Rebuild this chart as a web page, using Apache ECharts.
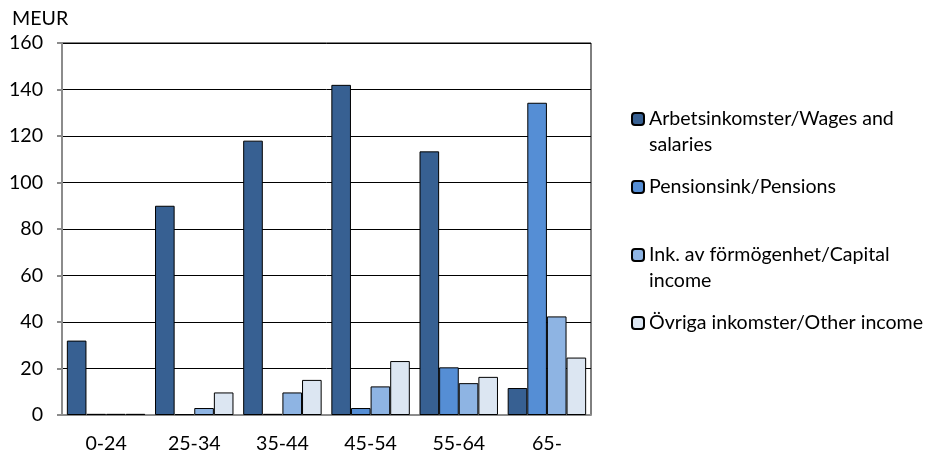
<!DOCTYPE html>
<html>
<head>
<meta charset="utf-8">
<script src="https://cdn.jsdelivr.net/npm/echarts@6/dist/echarts.min.js"></script>
<style>
html,body{margin:0;padding:0;background:#fff;}
#c{width:927px;height:454px;}
</style>
</head>
<body>
<div id="c"></div>
<script>
var categories = ['0-24', '25-34', '35-44', '45-54', '55-64', '65-'];
var seriesNames = ['Arbetsinkomster/Wages and salaries', 'Pensionsink/Pensions', 'Ink. av förmögenhet/Capital income', 'Övriga inkomster/Other income'];
var legendLabels = ['\nArbetsinkomster/Wages and\nsalaries', '\nPensionsink/Pensions\n', '\nInk. av förmögenhet/Capital\nincome', '\nÖvriga inkomster/Other income\n'];
var wages = [32, 90, 118, 142, 113.4, 11.6];
var pensions = [0.5, 0.4, 0.5, 3, 20.5, 134.3];
var capital = [0.5, 3, 9.7, 12.3, 13.7, 42.4];
var other = [0.5, 9.7, 15.1, 23.2, 16.4, 24.7];
var yTicks = [0, 20, 40, 60, 80, 100, 120, 140, 160];
var colors = ['#376092', '#558ED5', '#8EB4E3', '#DCE6F2'];

var FONT = 'Lato';
var FS = 19.6;
var values = [wages, pensions, capital, other];
var chart = echarts.init(document.getElementById('c'));
chart.setOption({
  animation: false,
  textStyle: {fontFamily: FONT},
  grid: {left: 62, right: 336, top: 43, bottom: 37, show: true, borderColor: '#000', borderWidth: 1},
  legend: {
    orient: 'vertical', left: 631, top: 80, padding: 0,
    itemWidth: 12, itemHeight: 12, itemGap: -10,
    data: seriesNames,
    formatter: function (name) { return legendLabels[seriesNames.indexOf(name)]; },
    textStyle: {fontFamily: FONT, fontSize: FS, color: '#000', lineHeight: 26}
  },
  xAxis: {
    type: 'category', data: categories,
    axisLine: {lineStyle: {color: '#8c8c8c', width: 2}},
    axisTick: {show: false},
    axisLabel: {fontFamily: FONT, fontSize: FS, color: '#000', margin: 19}
  },
  yAxis: {
    type: 'value', min: yTicks[0], max: yTicks[yTicks.length - 1], interval: 20,
    name: 'MEUR', nameLocation: 'end', nameGap: 14,
    nameTextStyle: {fontFamily: FONT, fontSize: FS, color: '#000', align: 'left', padding: [0, 0, 0, -50]},
    axisLine: {show: true, lineStyle: {color: '#8c8c8c', width: 2}},
    axisTick: {show: true, length: 5, lineStyle: {color: '#8c8c8c', width: 2}},
    splitLine: {lineStyle: {color: '#000', width: 1}},
    axisLabel: {fontFamily: FONT, fontSize: FS, color: '#000', margin: 19}
  },
  series: seriesNames.map(function (n, i) {
    return {
      name: n, type: 'bar', data: values[i],
      barGap: '0%', barCategoryGap: '11%',
      itemStyle: {color: colors[i], borderColor: '#000', borderWidth: 1}
    };
  })
});
</script>
</body>
</html>
